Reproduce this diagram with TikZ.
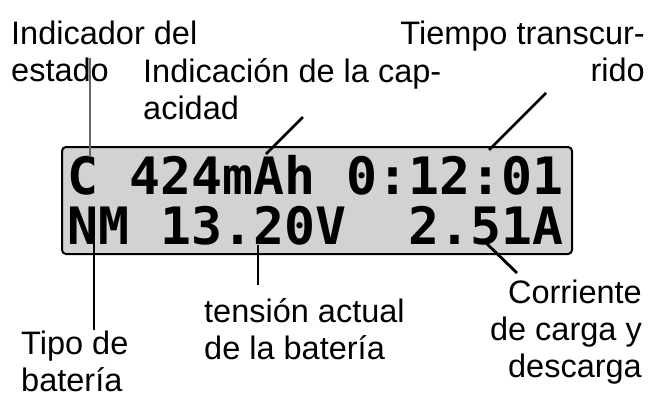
\documentclass[tikz,border=0pt]{standalone}
\usepackage{fontspec}
\setmainfont{Liberation Sans}
\newfontfamily\lcdfont{DejaVu Sans Mono Bold}
\begin{document}
\begin{tikzpicture}[x=1pt,y=-1pt,
  lbl/.style={inner sep=0pt,font=\fontsize{32.5}{37}\selectfont},
  lcdtext/.style={inner sep=0pt,anchor=base west,font=\lcdfont\fontsize{51.5}{51.5}\selectfont},
  lead/.style={line width=2.8pt},
  thinlead/.style={line width=1.2pt,draw=black!60}]
\useasboundingbox (0,0) rectangle (658,392);
% LCD panel
\draw[line width=2pt,fill=gray!35,rounded corners=4pt] (62,147) rectangle (572,254);
\node[lcdtext] (l1) at (67,194) {C 424mAh 0:12:01};
\node[lcdtext] (l2) at (67,244) {NM 13.20V\ \ 2.51A};
% labels (base anchor = baseline of the last line)
\node[lbl,anchor=base west,align=left] (ind) at (11,81) {Indicador del\\estado};
\node[lbl,anchor=base west,align=left] (cap) at (143,119) {Indicación de la cap-\\acidad};
\node[lbl,anchor=base east,align=right] (tie) at (645,81) {Tiempo transcur-\\rido};
\node[lbl,anchor=base west,align=left] (tip) at (21,391) {Tipo de\\batería};
\node[lbl,anchor=base west,align=left] (ten) at (204,359) {tensión actual\\de la batería};
\node[lbl,anchor=base east,align=right] (cor) at (642,377) {Corriente\\de carga y\\descarga};
% connector ends
\coordinate (indA) at (90,58);   \coordinate (indB) at (90,157);
\coordinate (capA) at (303,117); \coordinate (capB) at (266,154);
\coordinate (tieA) at (546,93);  \coordinate (tieB) at (489,150);
\coordinate (tipA) at (94,240);  \coordinate (tipB) at (94,330);
\coordinate (tenA) at (258,245); \coordinate (tenB) at (258,285);
\coordinate (corA) at (483,240); \coordinate (corB) at (517,273);
\draw[thinlead] (indA) -- (indB);
\draw[lead] (capA) -- (capB);
\draw[lead] (tieA) -- (tieB);
\draw[lead] (tipA) -- (tipB);
\draw[lead] (tenA) -- (tenB);
\draw[lead] (corA) -- (corB);
\end{tikzpicture}
\end{document}
